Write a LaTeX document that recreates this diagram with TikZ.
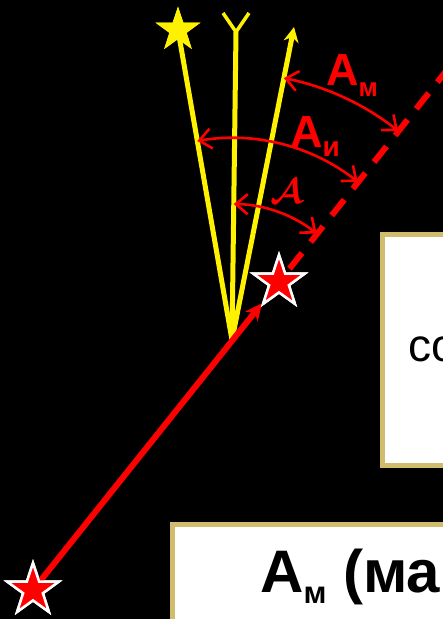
\documentclass[tikz,border=0pt]{standalone}
\usepackage{amsmath}
\usepackage{fontspec}
\setmainfont{Liberation Sans}
\usetikzlibrary{arrows.meta, shapes.geometric, calc}
\definecolor{panelgold}{RGB}{208,188,108}
\newcommand{\lowsub}[3]{\raisebox{#1}{\fontsize{#2}{#2}\selectfont #3}}

\begin{document}
\begin{tikzpicture}[
    x=1pt, y=-1pt,
    redstar/.style={star, star points=5, star point ratio=2.6, fill=red, draw=white,
                    line width=2.5pt, minimum size=54pt, inner sep=0pt},
    yelstar/.style={star, star points=5, star point ratio=2.6, fill=yellow,
                    minimum size=47pt, inner sep=0pt},
    ray/.style={yellow, line width=5pt},
    track/.style={red, line width=6pt},
    anglemark/.style={red, line width=2.6pt,
                      {Straight Barb[length=12pt, width=20pt]}-{Straight Barb[length=12pt, width=20pt]}},
    anglelbl/.style={red, font=\fontsize{45}{45}\selectfont\bfseries, inner sep=0pt},
    panel/.style={draw=panelgold, line width=4.5pt, fill=white, anchor=north west, align=left},
]
\fill[black] (0,0) rectangle (443,619);
\clip (0,0) rectangle (443,619);

\node[panel, minimum height=231, inner xsep=26pt,
      font=\fontsize{46}{46}\selectfont] (boxco) at (380,232) {со};
\node[panel, minimum height=108, inner xsep=88pt, text height=43pt, text depth=14pt,
      font=\fontsize{60}{60}\selectfont\bfseries] (boxam) at (170,522) {А\lowsub{-11pt}{31}{м} (ма};

\coordinate (O) at (232,340);
\coordinate (ytop) at (236,32);
\coordinate (yforkl) at (223,13);
\coordinate (yforkr) at (249,13);
\coordinate (ytip) at (294,27);
\coordinate (far) at ($(O)+(-51.5:420)$);

\node[yelstar] (ystar) at (178,30) {};
\draw[ray] (O) -- (ystar.center);
\draw[ray] (O) -- (ytop);
\draw[ray, line width=3.5pt] (yforkl) -- (ytop) -- (yforkr);
\draw[ray, -{Stealth[length=15pt, width=15pt]}] (O) -- (ytip);
\node[yelstar] at (ystar) {};

\node[redstar] (start) at (33,590) {};
\node[redstar] (pos) at (279,282) {};
\draw[track, -{Stealth[length=17pt, width=16pt]}] (start.center) -- (pos);
\draw[track, dash pattern=on 20pt off 14pt] ($(pos.center)!17pt!(far)$) -- (far);
\node[redstar] at (start) {};
\node[redstar] at (pos) {};

\draw[anglemark] ($(O)+(-78.8:267)$) arc[start angle=-78.8, end angle=-51.5, radius=267];
\draw[anglemark] ($(O)+(-99.9:202)$) arc[start angle=-99.9, end angle=-51.5, radius=202];
\draw[anglemark] ($(O)+(-89.3:136)$) arc[start angle=-89.3, end angle=-51.5, radius=136];

\node[anglelbl, anchor=base west] (lblm) at (326,85) {А\lowsub{-11pt}{26}{м}};
\node[anglelbl, anchor=base west] (lbli) at (290,147) {А\lowsub{-9pt}{28}{и}};
\node[red, inner sep=0pt, anchor=base west] (lblc) at (270,203)
     {\scalebox{2.45}{\Large$\boldsymbol{\mathcal{A}}$}};
\end{tikzpicture}
\end{document}
